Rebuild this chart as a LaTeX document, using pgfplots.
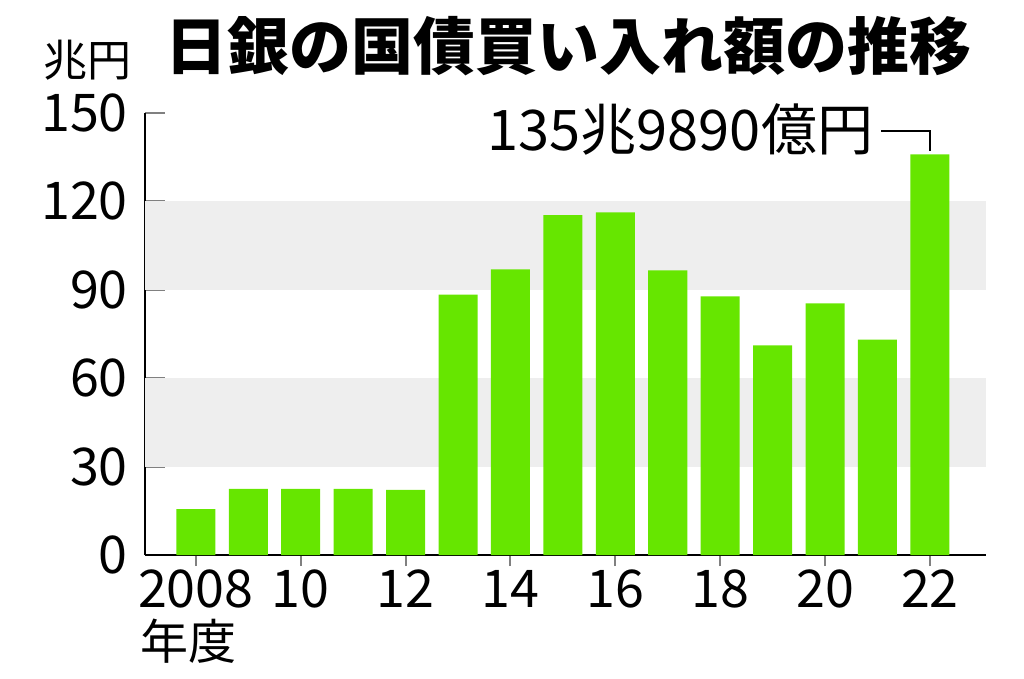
\documentclass[border=0pt]{standalone}
\usepackage{pgfplots}
\pgfplotsset{compat=1.18}
\usepackage{fontspec}
\setmainfont{Noto Sans CJK JP}
\definecolor{bargreen}{RGB}{102,230,0}
\definecolor{bandgray}{RGB}{238,238,238}
\pgfplotstableread{
year value
2008 15.6
2009 22.4
2010 22.4
2011 22.4
2012 22.1
2013 88.4
2014 96.9
2015 115.3
2016 116.3
2017 96.6
2018 87.8
2019 71.1
2020 85.4
2021 73.1
2022 135.989
}\bojdata
\begin{document}
\begin{tikzpicture}
\useasboundingbox (0,0) rectangle (1024pt,678pt);
\begin{axis}[
  at={(145pt,123pt)}, anchor=south west,
  scale only axis, width=841pt, height=442pt,
  xmin=2007.03, xmax=2023.07, ymin=0, ymax=150,
  axis x line*=bottom, axis y line*=left,
  axis line style={line width=2pt},
  xtick={2008,2010,...,2022},
  xticklabels={2008,10,12,14,16,18,20,22},
  ytick={0,30,...,150},
  xtick align=outside, ytick align=inside,
  major tick length=11pt,
  ytick style={line width=2pt, /pgfplots/major tick length=20pt},
  xtick style={line width=2pt},
  tick label style={font=\fontsize{52}{52}\selectfont},
  /pgf/number format/assume math mode=true,
  yticklabel style={anchor=east, inner sep=0pt, xshift=-17pt},
  xticklabel style={anchor=north, inner sep=0pt, yshift=-4pt},
  clip=false,
]
\addplot[draw=none, fill=bandgray, forget plot] coordinates {(2007.03,30) (2023.07,30) (2023.07,60) (2007.03,60)} -- cycle;
\addplot[draw=none, fill=bandgray, forget plot] coordinates {(2007.03,90) (2023.07,90) (2023.07,120) (2007.03,120)} -- cycle;
\addplot[ybar, bar width=0.744, draw=none, fill=bargreen] table[x=year,y=value] {\bojdata};
\draw[line width=1.5pt] (axis cs:2021.07,143.9) -- (axis cs:2022,143.9) -- (axis cs:2022,137.2);
\node[anchor=east, inner sep=0pt, font=\fontsize{56}{56}\selectfont] at (axis cs:2020.92,144.5) {135兆9890億円};
\end{axis}
\node[font=\fontsize{62}{62}\selectfont\bfseries, inner sep=0pt] at (568pt,632pt) {日銀の国債買い入れ額の推移};
\node[font=\fontsize{44}{44}\selectfont, inner sep=0pt] at (87pt,618pt) {兆円};
\node[font=\fontsize{48}{48}\selectfont, inner sep=0pt, anchor=west] at (140pt,37pt) {年度};
\end{tikzpicture}
\end{document}
